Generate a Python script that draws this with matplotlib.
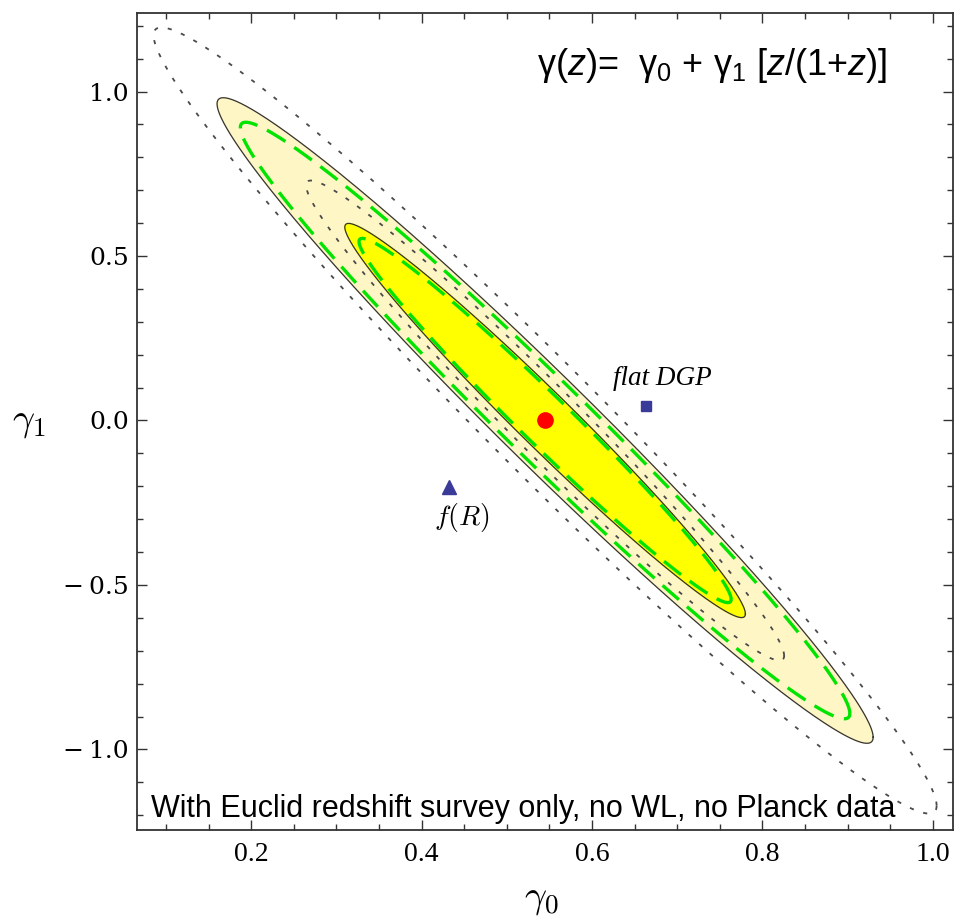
import numpy as np
import matplotlib.pyplot as plt
from matplotlib.ticker import MultipleLocator, FixedLocator

# ===================== data =====================
# fiducial model (LCDM)
center = (0.545, 0.0)

# forecast errors: (sigma_gamma0, sigma_gamma1, correlation)
dotted_err = (0.185, 0.481, -0.980)   # gray dotted contours
solid_err = (0.155, 0.395, -0.981)    # filled yellow contours
green_err = (0.144, 0.365, -0.982)    # green dashed contours

# delta chi^2 for 1 sigma and 2 sigma (2 parameters)
levels = [2.30, 6.17]

# alternative models
dgp_point = (0.663, 0.045)
fR_point = (0.432, -0.203)

xticks = [0.2, 0.4, 0.6, 0.8, 1.0]
xticklabels = ['0.2', '0.4', '0.6', '0.8', '1.0']
yticks = [-1.0, -0.5, 0.0, 0.5, 1.0]
yticklabels = ['\u2212\u20091.0', '\u2212\u20090.5', '0.0', '0.5', '1.0']


def ellipse(err, dchi2, n=600):
    s0, s1, r = err
    cov = np.array([[s0**2, r*s0*s1], [r*s0*s1, s1**2]])
    L = np.linalg.cholesky(cov)
    t = np.linspace(0, 2*np.pi, n)
    xy = np.sqrt(dchi2) * (L @ np.vstack([np.cos(t), np.sin(t)]))
    return center[0] + xy[0], center[1] + xy[1]


plt.rcParams['mathtext.fontset'] = 'custom'
plt.rcParams['mathtext.rm'] = 'Liberation Sans'
plt.rcParams['mathtext.it'] = 'Liberation Sans:italic'

fig = plt.figure(figsize=(9.66, 9.22), dpi=100)
ax = fig.add_axes([0.1418, 0.0998, 0.8447, 0.8864])

# filled contours (2 sigma first, then 1 sigma on top)
x2, y2 = ellipse(solid_err, levels[1])
x1, y1 = ellipse(solid_err, levels[0])
ax.fill(x2, y2, color='#FFF6C6', zorder=1)
ax.plot(x2, y2, color='#333333', lw=0.9, zorder=2)
ax.fill(x1, y1, color='#FFFF00', zorder=2)
ax.plot(x1, y1, color='#333333', lw=0.9, zorder=3)

# gray dotted contours
for lev in levels:
    xd, yd = ellipse(dotted_err, lev)
    ax.plot(xd, yd, color='#4A4A4A', lw=1.3, ls=(0, (2.3, 5.5)), zorder=4)

# green dashed contours
for lev in levels:
    xg, yg = ellipse(green_err, lev)
    ax.plot(xg, yg, color='#00E400', lw=2.4, ls=(0, (6.5, 3.2)), zorder=5)

# points
ax.plot(*center, 'o', color='#FF0000', ms=11, mec='#FF0000', zorder=6)
ax.plot(*dgp_point, 's', color='#3A3A98', ms=7.5, zorder=6)
ax.plot(*fR_point, '^', color='#3A3A98', ms=10, zorder=6)

ax.text(0.683, 0.108, 'flat DGP', family='Liberation Serif', style='italic',
        fontsize=19.5, ha='center', va='baseline', zorder=7)
ax.text(0.447, -0.318, r'$f(R)$', math_fontfamily='cm', fontsize=20,
        ha='center', va='baseline', zorder=7)

ax.text(0.49, 0.924, r'γ($z$)=  γ$_0$ + γ$_1$ [$z$/(1+$z$)]',
        transform=ax.transAxes, family='Liberation Sans', fontsize=26,
        ha='left', va='baseline', zorder=7)
ax.text(0.017, 0.016, 'With Euclid redshift survey only, no WL, no Planck data',
        transform=ax.transAxes, family='Liberation Sans', fontsize=22,
        ha='left', va='baseline', zorder=7)

# ===================== axes =====================
ax.set_xlim(0.066, 1.0237)
ax.set_ylim(-1.2447, 1.2395)

ax.xaxis.set_major_locator(FixedLocator(xticks))
ax.set_xticklabels(xticklabels, family='Liberation Serif', fontsize=20)
ax.yaxis.set_major_locator(FixedLocator(yticks))
ax.set_yticklabels(yticklabels, family='DejaVu Serif', fontsize=18)
ax.xaxis.set_minor_locator(MultipleLocator(0.05))
ax.yaxis.set_minor_locator(MultipleLocator(0.1))

ax.tick_params(which='both', direction='in', top=True, right=True,
               color='#333333', width=1.0)
ax.tick_params(which='major', length=7)
ax.tick_params(which='minor', length=4)
ax.tick_params(axis='x', which='major', pad=9)
ax.tick_params(axis='y', which='major', pad=6)
for sp in ax.spines.values():
    sp.set_color('#333333')
    sp.set_linewidth(1.3)

ax.set_xlabel(r'$\gamma_0$', math_fontfamily='cm', fontsize=28)
ax.xaxis.label.set_va('center')
ax.xaxis.set_label_coords(0.495, -0.083)
ax.set_ylabel(r'$\gamma_1$', math_fontfamily='cm', fontsize=28, rotation=0)
ax.yaxis.label.set_va('center')
ax.yaxis.set_label_coords(-0.133, 0.50)

fig.savefig('out.png', dpi=100)
